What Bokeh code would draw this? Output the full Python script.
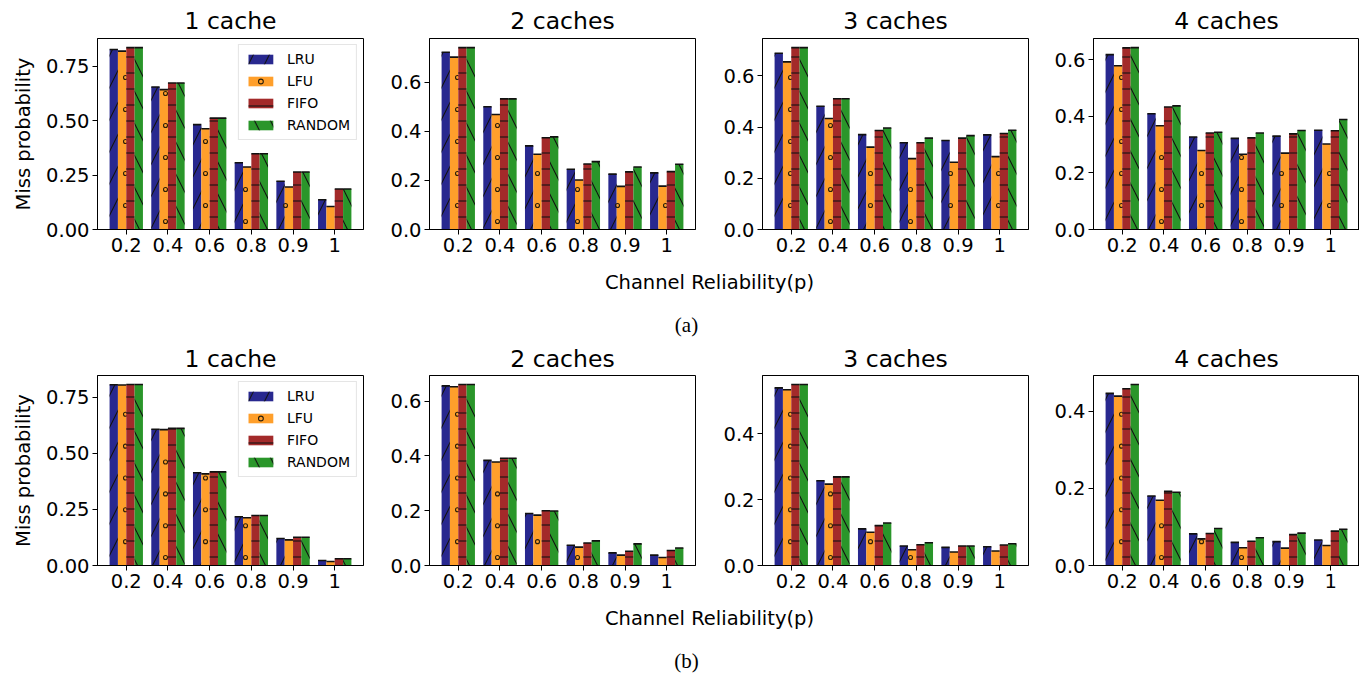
from bokeh.plotting import figure
from bokeh.layouts import column, row
from bokeh.models import (FixedTicker, PrintfTickFormatter, Legend, LegendItem,
                          ColumnDataSource, Range1d)
from bokeh.core.properties import value
from bokeh.embed import file_html
from bokeh.resources import INLINE

categories = ["0.2", "0.4", "0.6", "0.8", "0.9", "1"]
policies = ["LRU", "LFU", "FIFO", "RANDOM"]
panel_titles = ["1 cache", "2 caches", "3 caches", "4 caches"]
x_label = "Channel Reliability(p)"
y_label = "Miss probability"
captions = ["(a)", "(b)"]

# ---- row (a) ----
lru_a = [
    [0.827, 0.655, 0.482, 0.307, 0.222, 0.137],
    [0.723, 0.501, 0.341, 0.246, 0.226, 0.231],
    [0.689, 0.482, 0.371, 0.339, 0.348, 0.370],
    [0.618, 0.409, 0.327, 0.322, 0.330, 0.351],
]
lfu_a = [
    [0.820, 0.643, 0.463, 0.287, 0.195, 0.106],
    [0.703, 0.469, 0.307, 0.202, 0.176, 0.177],
    [0.655, 0.434, 0.322, 0.277, 0.263, 0.285],
    [0.579, 0.367, 0.279, 0.266, 0.270, 0.302],
]
fifo_a = [
    [0.836, 0.673, 0.512, 0.348, 0.264, 0.186],
    [0.742, 0.533, 0.374, 0.267, 0.235, 0.236],
    [0.711, 0.511, 0.387, 0.339, 0.357, 0.375],
    [0.642, 0.433, 0.341, 0.324, 0.338, 0.349],
]
random_a = [
    [0.836, 0.673, 0.512, 0.348, 0.264, 0.186],
    [0.742, 0.533, 0.378, 0.277, 0.255, 0.266],
    [0.711, 0.511, 0.397, 0.357, 0.367, 0.388],
    [0.643, 0.437, 0.344, 0.341, 0.350, 0.389],
]
# ---- row (b) ----
lru_b = [
    [0.805, 0.607, 0.413, 0.217, 0.120, 0.022],
    [0.656, 0.384, 0.190, 0.074, 0.046, 0.038],
    [0.539, 0.257, 0.111, 0.059, 0.055, 0.057],
    [0.446, 0.180, 0.082, 0.060, 0.062, 0.066],
]
lfu_b = [
    [0.804, 0.605, 0.408, 0.213, 0.114, 0.018],
    [0.653, 0.378, 0.184, 0.067, 0.038, 0.029],
    [0.533, 0.247, 0.101, 0.048, 0.041, 0.044],
    [0.439, 0.169, 0.069, 0.046, 0.045, 0.052],
]
fifo_b = [
    [0.806, 0.611, 0.417, 0.223, 0.126, 0.030],
    [0.661, 0.392, 0.200, 0.082, 0.052, 0.055],
    [0.549, 0.269, 0.121, 0.063, 0.059, 0.062],
    [0.458, 0.192, 0.083, 0.063, 0.080, 0.089],
]
random_b = [
    [0.806, 0.611, 0.417, 0.223, 0.126, 0.030],
    [0.661, 0.392, 0.199, 0.090, 0.079, 0.064],
    [0.549, 0.269, 0.129, 0.069, 0.059, 0.066],
    [0.469, 0.190, 0.096, 0.072, 0.084, 0.094],
]
yticks_a = [[0, 0.25, 0.5, 0.75], [0, 0.2, 0.4, 0.6], [0, 0.2, 0.4, 0.6], [0, 0.2, 0.4, 0.6]]
yticks_b = [[0, 0.25, 0.5, 0.75], [0, 0.2, 0.4, 0.6], [0, 0.2, 0.4], [0, 0.2, 0.4]]

colors = ["#28288f", "#ff9f2b", "#a32a2a", "#2a962a"]
hatches = ["/", None, "-", "\\"]
hatch_scales = [32, 16, 16, 32]
RING_COLOR = "#2a1e0a"
FONT = "DejaVu Sans"
BAR_W = 0.2
X_PAD = 0.69

FRAME_W = 266
FRAME_H = 191
LEFTS = [97, 49, 49, 47]
RIGHTS = [17, 18, 18, 0]
RING_PITCH = 16  # px, emulates a small-circle hatch


def ring_positions(xs, tops, x_start, x_span, ymax):
    """Small-circle hatch emulation: staggered lattice clipped to each bar."""
    ppx = FRAME_W / x_span
    ppy = FRAME_H / ymax
    rx, ry = [], []
    for xc, top in zip(xs, tops):
        left_px = (xc - BAR_W / 2 - x_start) * ppx
        right_px = (xc + BAR_W / 2 - x_start) * ppx
        top_px = top * ppy
        r = 0
        ypx = 8.0
        while ypx < top_px - 2:
            off = 4 if r % 2 == 0 else 12
            k0 = int((left_px - off) // RING_PITCH) - 1
            for k in range(k0, k0 + 4):
                cx = off + k * RING_PITCH
                if left_px <= cx <= right_px:
                    rx.append(x_start + cx / ppx)
                    ry.append(ypx / ppy)
            r += 1
            ypx += RING_PITCH
    return rx, ry


def make_panel(i, series, yticks, top_border, bottom_border, title_standoff, show_legend):
    n = len(categories)
    ymax = max(max(s) for s in series) * 1.05
    x_start, x_end = -X_PAD, n - 1 + X_PAD
    left, right = LEFTS[i], RIGHTS[i]
    p = figure(width=left + FRAME_W + right, height=top_border + FRAME_H + bottom_border,
               x_range=Range1d(x_start, x_end), y_range=Range1d(0, ymax),
               output_backend="svg", toolbar_location=None,
               min_border_left=left, min_border_right=right,
               min_border_top=top_border, min_border_bottom=bottom_border,
               title=panel_titles[i])
    p.title.align = "center"
    p.title.text_font = FONT
    p.title.text_font_size = "23.5px"
    p.title.text_font_style = "normal"
    p.title.text_color = "black"
    p.title.standoff = title_standoff
    p.xgrid.visible = False
    p.ygrid.visible = False
    p.outline_line_color = "black"
    p.outline_line_width = 1
    p.background_fill_color = "white"
    p.border_fill_color = "white"

    items = []
    for k, pol in enumerate(policies):
        xs = [j + (k - 1.5) * BAR_W for j in range(n)]
        src = ColumnDataSource(dict(x=xs, top=series[k],
                                    x0=[x - BAR_W / 2 for x in xs],
                                    x1=[x + BAR_W / 2 for x in xs]))
        kw = {}
        if hatches[k] is not None:
            kw = dict(hatch_pattern=hatches[k], hatch_color="#111111",
                      hatch_scale=hatch_scales[k], hatch_weight=1.1)
        r = p.vbar(x="x", top="top", bottom=0, width=BAR_W, source=src,
                   fill_color=colors[k], line_color=None, **kw)
        renderers = [r]
        if hatches[k] is None:
            rx, ry = ring_positions(xs, series[k], x_start, x_end - x_start, ymax)
            rr = p.scatter(rx, ry, marker="circle", size=4, fill_color=None,
                           line_color=RING_COLOR, line_width=1.1)
            renderers.append(rr)
        p.segment(x0="x0", x1="x1", y0="top", y1="top", source=src,
                  line_color="#111111", line_width=1.6)
        items.append(LegendItem(label=pol, renderers=renderers))

    if show_legend:
        leg = Legend(items=items, location="top_right")
        leg.label_text_font = FONT
        leg.label_text_font_size = "14px"
        leg.label_text_color = "black"
        leg.glyph_width = 31
        leg.glyph_height = 12
        leg.label_standoff = 11
        leg.label_height = 12
        leg.padding = 6
        leg.spacing = 6
        leg.margin = 6
        leg.border_line_color = "#cccccc"
        leg.border_line_width = 1
        leg.background_fill_alpha = 0.85
        p.add_layout(leg)

    xa = p.xaxis[0]
    xa.ticker = FixedTicker(ticks=list(range(n)))
    xa.major_label_overrides = {j: c for j, c in enumerate(categories)}
    ya = p.yaxis[0]
    ya.ticker = FixedTicker(ticks=yticks)
    ya.formatter = PrintfTickFormatter(format="%.2f" if i == 0 else "%.1f")
    for ax in (xa, ya):
        ax.axis_line_color = "black"
        ax.major_tick_line_color = "black"
        ax.major_tick_out = 5
        ax.major_tick_in = 0
        ax.minor_tick_line_color = None
        ax.major_label_text_font = FONT
        ax.major_label_text_font_size = "19.5px"
        ax.major_label_text_color = "black"
        ax.major_label_standoff = 3
    if i == 0:
        ya.axis_label = y_label
        ya.axis_label_text_font = FONT
        ya.axis_label_text_font_size = "19.5px"
        ya.axis_label_text_font_style = "normal"
        ya.axis_label_text_color = "black"
        ya.axis_label_standoff = 8
    return p


def make_strip(height, caption):
    total_w = sum(LEFTS) + sum(RIGHTS) + 4 * FRAME_W
    s = figure(width=total_w, height=height, x_range=Range1d(0, total_w),
               y_range=Range1d(height, 0), output_backend="svg",
               toolbar_location=None, x_axis_type=None, y_axis_type=None,
               min_border=0)
    s.outline_line_color = None
    s.xgrid.visible = False
    s.ygrid.visible = False
    s.text(x=[709], y=[20], text=[x_label], text_font=value(FONT),
           text_font_size="19.5px", text_align="center", text_baseline="middle",
           text_color="black")
    s.text(x=[686], y=[62], text=[caption], text_font=value("Liberation Serif"),
           text_font_size="21px", text_align="center", text_baseline="middle",
           text_color="black")
    return s


series_a = [[lru_a[i], lfu_a[i], fifo_a[i], random_a[i]] for i in range(4)]
series_b = [[lru_b[i], lfu_b[i], fifo_b[i], random_b[i]] for i in range(4)]

row_a = row(*[make_panel(i, series_a[i], yticks_a[i], 38, 33, 8, i == 0) for i in range(4)])
row_b = row(*[make_panel(i, series_b[i], yticks_b[i], 34, 33, 5, i == 0) for i in range(4)])
layout = column(row_a, make_strip(78, captions[0]), row_b, make_strip(76, captions[1]))

open("out.html", "w").write(file_html(layout, INLINE))
